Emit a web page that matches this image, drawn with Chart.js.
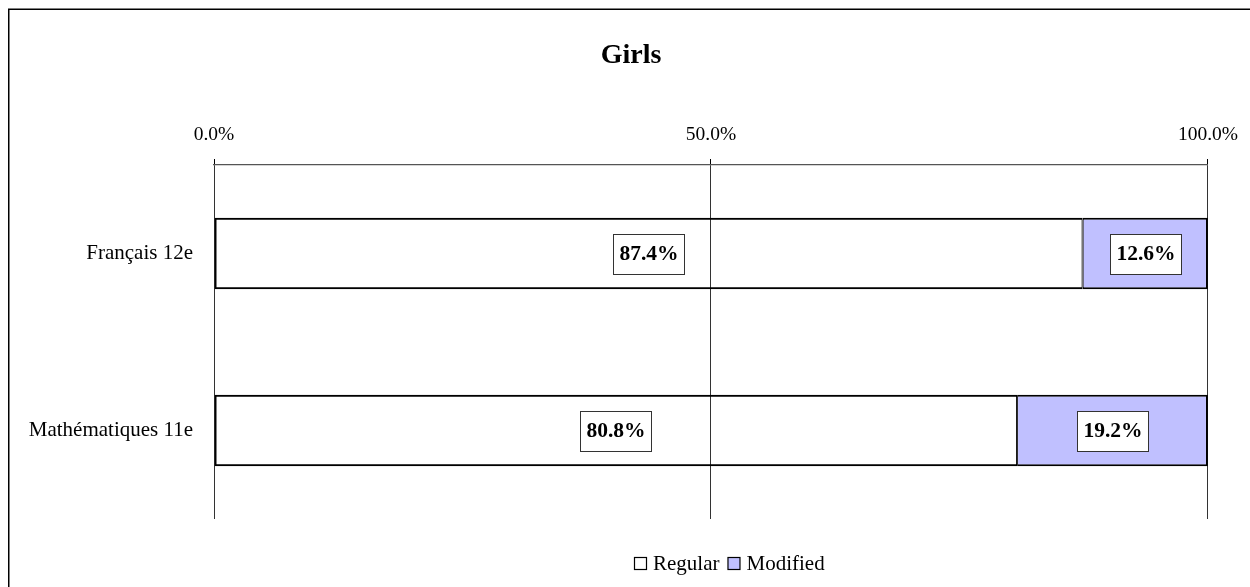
<!DOCTYPE html>
<html>
<head>
<meta charset="utf-8">
<script src="https://cdn.jsdelivr.net/npm/chart.js@4.4.0/dist/chart.umd.min.js"></script>
<style>
  html, body { margin: 0; padding: 0; background: #fff; }
  #wrap { width: 1250px; height: 587px; position: relative; }
</style>
</head>
<body>
<div id="wrap"><canvas id="c" width="1250" height="587"></canvas></div>
<script>
// ---- data ----
const categories = ['Français 12e', 'Mathématiques 11e'];
const seriesNames = ['Regular', 'Modified'];
const regularValues = [87.4, 80.8];
const modifiedValues = [12.6, 19.2];
const xTickValues = [0, 50, 100];
const chartTitle = 'Girls';

const SERIF = "'Liberation Serif', 'Times New Roman', serif";
Chart.defaults.color = '#000';
Chart.defaults.font.family = SERIF;

const frame = {
  id: 'frame',
  afterLayout(chart) {
    // centre the title the way the original places it
    if (chart.titleBlock) { chart.titleBlock.left += 53.5; }
  },
  beforeDraw(chart) {
    const ctx = chart.ctx;
    ctx.save();
    ctx.fillStyle = '#fff';
    ctx.fillRect(0, 0, chart.width, chart.height);
    ctx.strokeStyle = '#000';
    ctx.lineWidth = 1.5;
    ctx.strokeRect(8.75, 9.25, chart.width + 50, chart.height + 50);
    ctx.restore();
  }
};

const dataLabels = {
  id: 'dataLabels',
  afterDatasetsDraw(chart) {
    const ctx = chart.ctx;
    ctx.save();
    ctx.font = 'bold 21.5px ' + SERIF;
    ctx.textAlign = 'center';
    ctx.textBaseline = 'middle';
    chart.data.datasets.forEach((ds, di) => {
      const meta = chart.getDatasetMeta(di);
      meta.data.forEach((bar, i) => {
        const v = ds.data[i];
        const txt = v.toFixed(1) + '%';
        const w = Math.round(ctx.measureText(txt).width + 12);
        const h = 40;
        const cx = (bar.x + bar.base) / 2;
        const cy = bar.y;
        const bx = Math.round(cx - w / 2) + 0.5;
        const by = Math.round(cy - h / 2) + 0.5;
        ctx.fillStyle = '#fff';
        ctx.fillRect(bx, by, w, h);
        ctx.strokeStyle = '#333';
        ctx.lineWidth = 1;
        ctx.strokeRect(bx, by, w, h);
        ctx.fillStyle = '#000';
        ctx.fillText(txt, bx + w / 2, cy + 1);
      });
    });
    ctx.restore();
  }
};

const bottomLegend = {
  id: 'bottomLegend',
  afterDraw(chart) {
    const ctx = chart.ctx;
    ctx.save();
    ctx.font = '21px ' + SERIF;
    ctx.textBaseline = 'middle';
    ctx.textAlign = 'left';
    let x = 634;
    const y = 564;
    chart.data.datasets.forEach((ds) => {
      ctx.fillStyle = ds.legendFill;
      ctx.fillRect(x + 0.5, y - 6.5, 12, 12);
      ctx.strokeStyle = '#000';
      ctx.lineWidth = 1.2;
      ctx.strokeRect(x + 0.5, y - 6.5, 12, 12);
      ctx.fillStyle = '#000';
      ctx.fillText(ds.label, x + 19, y);
      x += 19 + ctx.measureText(ds.label).width + 8;
    });
    ctx.restore();
  }
};

new Chart(document.getElementById('c'), {
  type: 'bar',
  data: {
    labels: categories,
    datasets: [
      {
        label: seriesNames[0],
        data: regularValues,
        backgroundColor: 'rgba(255,255,255,0)',
        legendFill: '#ffffff',
        borderColor: '#000',
        borderWidth: { top: 2, bottom: 2, left: 2, right: 1 },
        borderSkipped: false,
        categoryPercentage: 0.405,
        barPercentage: 1
      },
      {
        label: seriesNames[1],
        data: modifiedValues,
        backgroundColor: '#C0C0FF',
        legendFill: '#C0C0FF',
        borderColor: '#000',
        borderWidth: { top: 2, bottom: 2, left: 1, right: 2 },
        borderSkipped: false,
        categoryPercentage: 0.405,
        barPercentage: 1
      }
    ]
  },
  options: {
    indexAxis: 'y',
    responsive: false,
    animation: false,
    layout: { padding: { left: 0, right: 41.5, top: 0, bottom: 68 } },
    plugins: {
      legend: { display: false },
      tooltip: { enabled: false },
      title: {
        display: true,
        text: chartTitle,
        color: '#000',
        font: { family: SERIF, size: 28, weight: 'bold' },
        padding: { top: 39, bottom: 0 }
      }
    },
    scales: {
      x: {
        position: 'top',
        stacked: true,
        min: 0,
        max: 100,
        afterBuildTicks(scale) { scale.ticks = xTickValues.map(v => ({ value: v })); },
        afterFit(scale) { scale.height = 92.4; },
        ticks: {
          padding: 12,
          maxRotation: 0,
          color: '#000',
          font: { family: SERIF, size: 19.5 },
          callback: (v) => Number(v).toFixed(1) + '%'
        },
        grid: { color: '#333', lineWidth: 1, tickLength: 6, tickColor: '#000', drawTicks: true },
        border: { display: true, color: '#555', width: 1.2 }
      },
      y: {
        stacked: true,
        afterFit(scale) { scale.width = 214; },
        ticks: {
          padding: 21,
          color: '#000',
          font: { family: SERIF, size: 21 }
        },
        grid: { display: false, drawTicks: false },
        border: { display: false }
      }
    }
  },
  plugins: [frame, dataLabels, bottomLegend]
});
</script>
</body>
</html>
